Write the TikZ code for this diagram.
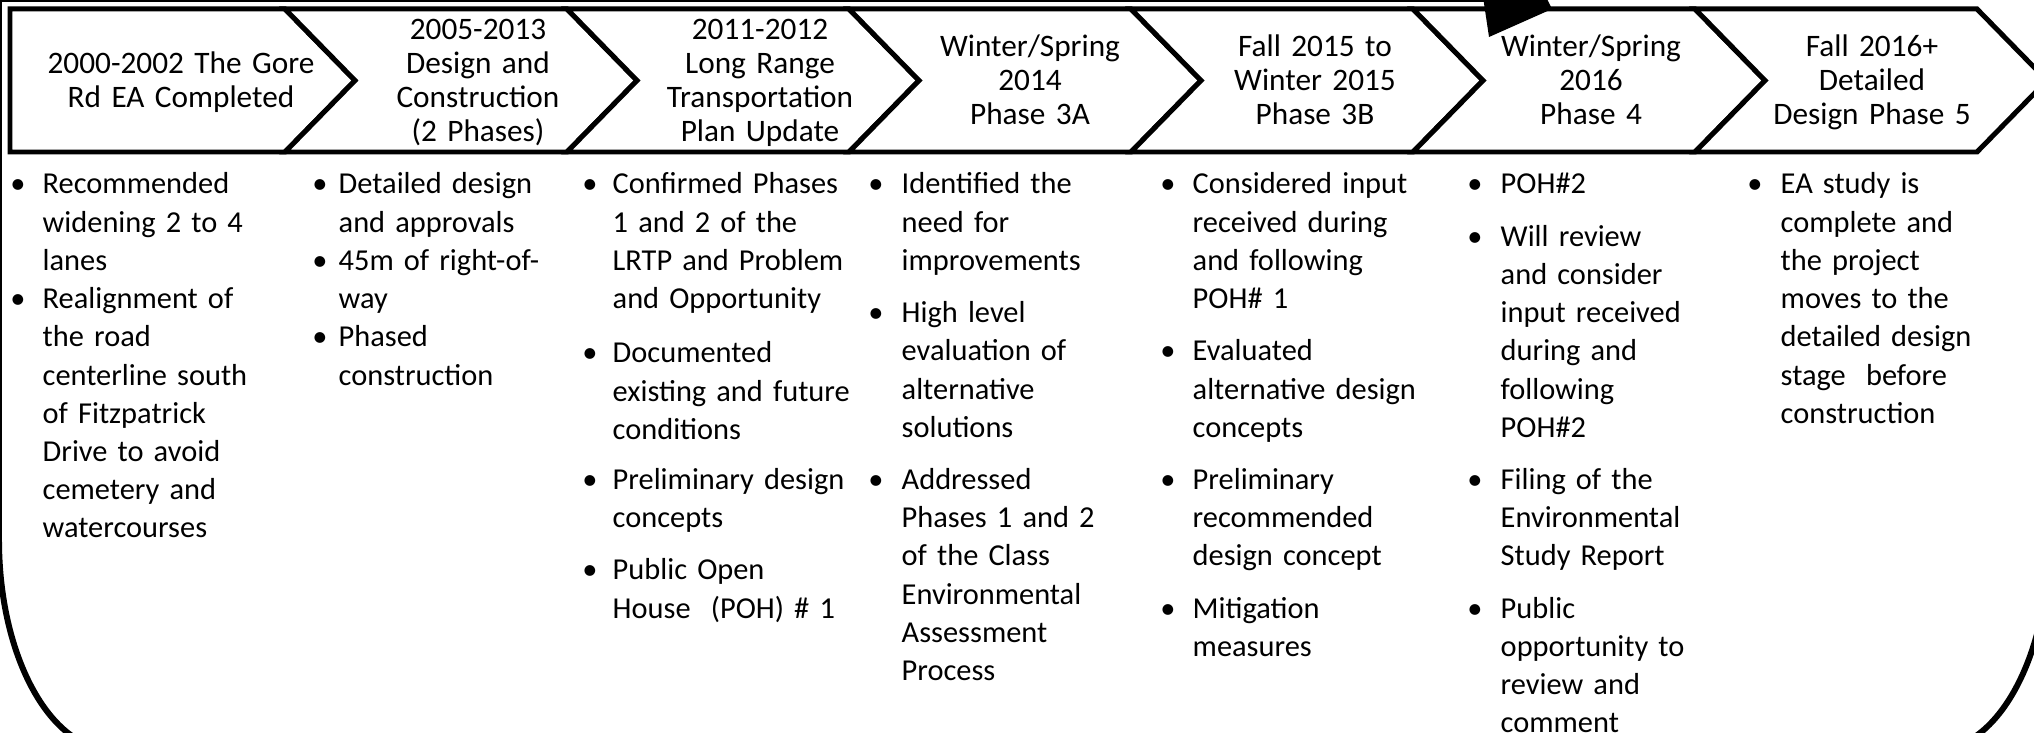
\documentclass[tikz,border=0pt]{standalone}
\usepackage{fontspec}
\setmainfont{Carlito}
\newcommand\hfnt{\fontsize{8.9}{9.67}\selectfont}
\newcommand\bfnt{\fontsize{8.65}{10.87}\selectfont}
\begin{document}
\begin{tikzpicture}[x=0.1mm,y=-0.1mm,
  chev/.style={draw=black, line width=1.42pt, fill=white, line join=miter},
  cycleline/.style={draw=black, line width=1.7pt},
  head/.style={anchor=base, align=center, font=\hfnt, inner sep=0, text width=3cm},
  bodytext/.style={anchor=base west, align=left, font=\bfnt, inner sep=0, text width=3cm},
  bul/.style={anchor=base, font=\bfnt, inner sep=0}]
\useasboundingbox (0,0) rectangle (2034,733);
\begin{scope}
\clip (0,0) rectangle (2034,733);
% big cycle arrow
\draw[cycleline] (1486,-1) -- (-1,-1) -- (-1,540)
  arc[start angle=180, end angle=90, x radius=114, y radius=210]
  -- (1935,750)
  arc[start angle=90, end angle=0, x radius=114, y radius=210]
  -- (2049,-1);
% chevrons
\draw[chev] (10,9) -- (285,9) -- (355,80.5) -- (285,152) -- (10,152) -- cycle;
\draw[chev] (285,9) -- (567,9) -- (637,80.5) -- (567,152) -- (285,152) -- (355,80.5) -- cycle;
\draw[chev] (567,9) -- (849,9) -- (919,80.5) -- (849,152) -- (567,152) -- (637,80.5) -- cycle;
\draw[chev] (849,9) -- (1131,9) -- (1201,80.5) -- (1131,152) -- (849,152) -- (919,80.5) -- cycle;
\draw[chev] (1131,9) -- (1413,9) -- (1483,80.5) -- (1413,152) -- (1131,152) -- (1201,80.5) -- cycle;
\draw[chev] (1413,9) -- (1695,9) -- (1765,80.5) -- (1695,152) -- (1413,152) -- (1483,80.5) -- cycle;
\draw[chev] (1695,9) -- (1977,9) -- (2047,80.5) -- (1977,152) -- (1695,152) -- (1765,80.5) -- cycle;
% arrow head
\fill[black] (1483,-3) -- (1489,37) -- (1552,9) -- (1546,-3) -- cycle;
% headings
\node[head] (h1) at (181,73.5) {2000-2002 The Gore\\Rd EA Completed};
\node[head] (h2) at (478,39.5) {2005-2013\\Design and\\Construction\\(2 Phases)};
\node[head] (h3) at (760,39.5) {2011-2012\\Long Range\\Transportation\\Plan Update};
\node[head] (h4) at (1030,56.5) {Winter/Spring\\2014\\Phase 3A};
\node[head] (h5) at (1315,56.5) {Fall 2015 to\\Winter 2015\\Phase 3B};
\node[head] (h6) at (1591,56.5) {Winter/Spring\\2016\\Phase 4};
\node[head] (h7) at (1872,56.5) {Fall 2016+\\Detailed\\Design Phase 5};
% column 1
\node[bul] (b1a) at (18,194) {•};
\node[bodytext] (t1a) at (42,194) {Recommended\\widening 2 to 4\\lanes};
\node[bul] (b1b) at (18,308.6) {•};
\node[bodytext] (t1b) at (42,308.6) {Realignment of\\the road\\centerline south\\of Fitzpatrick\\Drive to avoid\\cemetery and\\watercourses};
% column 2
\node[bul] (b2a) at (320,194) {•};
\node[bodytext] (t2a) at (338,194) {Detailed design\\and approvals};
\node[bul] (b2b) at (320,270.4) {•};
\node[bodytext] (t2b) at (338,270.4) {45m of right-of-\\way};
\node[bul] (b2c) at (320,346.8) {•};
\node[bodytext] (t2c) at (338,346.8) {Phased\\construction};
% column 3
\node[bul] (b3a) at (590,194) {•};
\node[bodytext] (t3a) at (612,194) {Confirmed Phases\\1 and 2 of the\\LRTP and Problem\\and Opportunity};
\node[bul] (b3b) at (590,362.8) {•};
\node[bodytext] (t3b) at (612,362.8) {Documented\\existing and future\\conditions};
\node[bul] (b3c) at (590,489.4) {•};
\node[bodytext] (t3c) at (612,489.4) {Preliminary design\\concepts};
\node[bul] (b3d) at (590,579.8) {•};
\node[bodytext] (t3d) at (612,579.8) {Public Open\\House\ \ (POH) \# 1};
% column 4
\node[bul] (b4a) at (876,194) {•};
\node[bodytext] (t4a) at (901,194) {Identified the\\need for\\improvements};
\node[bul] (b4b) at (876,322.6) {•};
\node[bodytext] (t4b) at (901,322.6) {High level\\evaluation of\\alternative\\solutions};
\node[bul] (b4c) at (876,489.4) {•};
\node[bodytext] (t4c) at (901,489.4) {Addressed\\Phases 1 and 2\\of the Class\\Environmental\\Assessment\\Process};
% column 5
\node[bul] (b5a) at (1168,194) {•};
\node[bodytext] (t5a) at (1192,194) {Considered input\\received during\\and following\\POH\# 1};
\node[bul] (b5b) at (1168,360.8) {•};
\node[bodytext] (t5b) at (1192,360.8) {Evaluated\\alternative design\\concepts};
\node[bul] (b5c) at (1168,489.4) {•};
\node[bodytext] (t5c) at (1192,489.4) {Preliminary\\recommended\\design concept};
\node[bul] (b5d) at (1168,618) {•};
\node[bodytext] (t5d) at (1192,618) {Mitigation\\measures};
% column 6
\node[bul] (b6a) at (1475,194) {•};
\node[bodytext] (t6a) at (1500,194) {POH\#2};
\node[bul] (b6b) at (1475,246.2) {•};
\node[bodytext] (t6b) at (1500,246.2) {Will review\\and consider\\input received\\during and\\following\\POH\#2};
\node[bul] (b6c) at (1475,489.4) {•};
\node[bodytext] (t6c) at (1500,489.4) {Filing of the\\Environmental\\Study Report};
\node[bul] (b6d) at (1475,618) {•};
\node[bodytext] (t6d) at (1500,618) {Public\\opportunity to\\review and\\comment};
% column 7
\node[bul] (b7a) at (1755,194) {•};
\node[bodytext] (t7a) at (1780,194) {EA study is\\complete and\\the project\\moves to the\\detailed design\\stage\ \ before\\construction};
\end{scope}
\end{tikzpicture}
\end{document}
